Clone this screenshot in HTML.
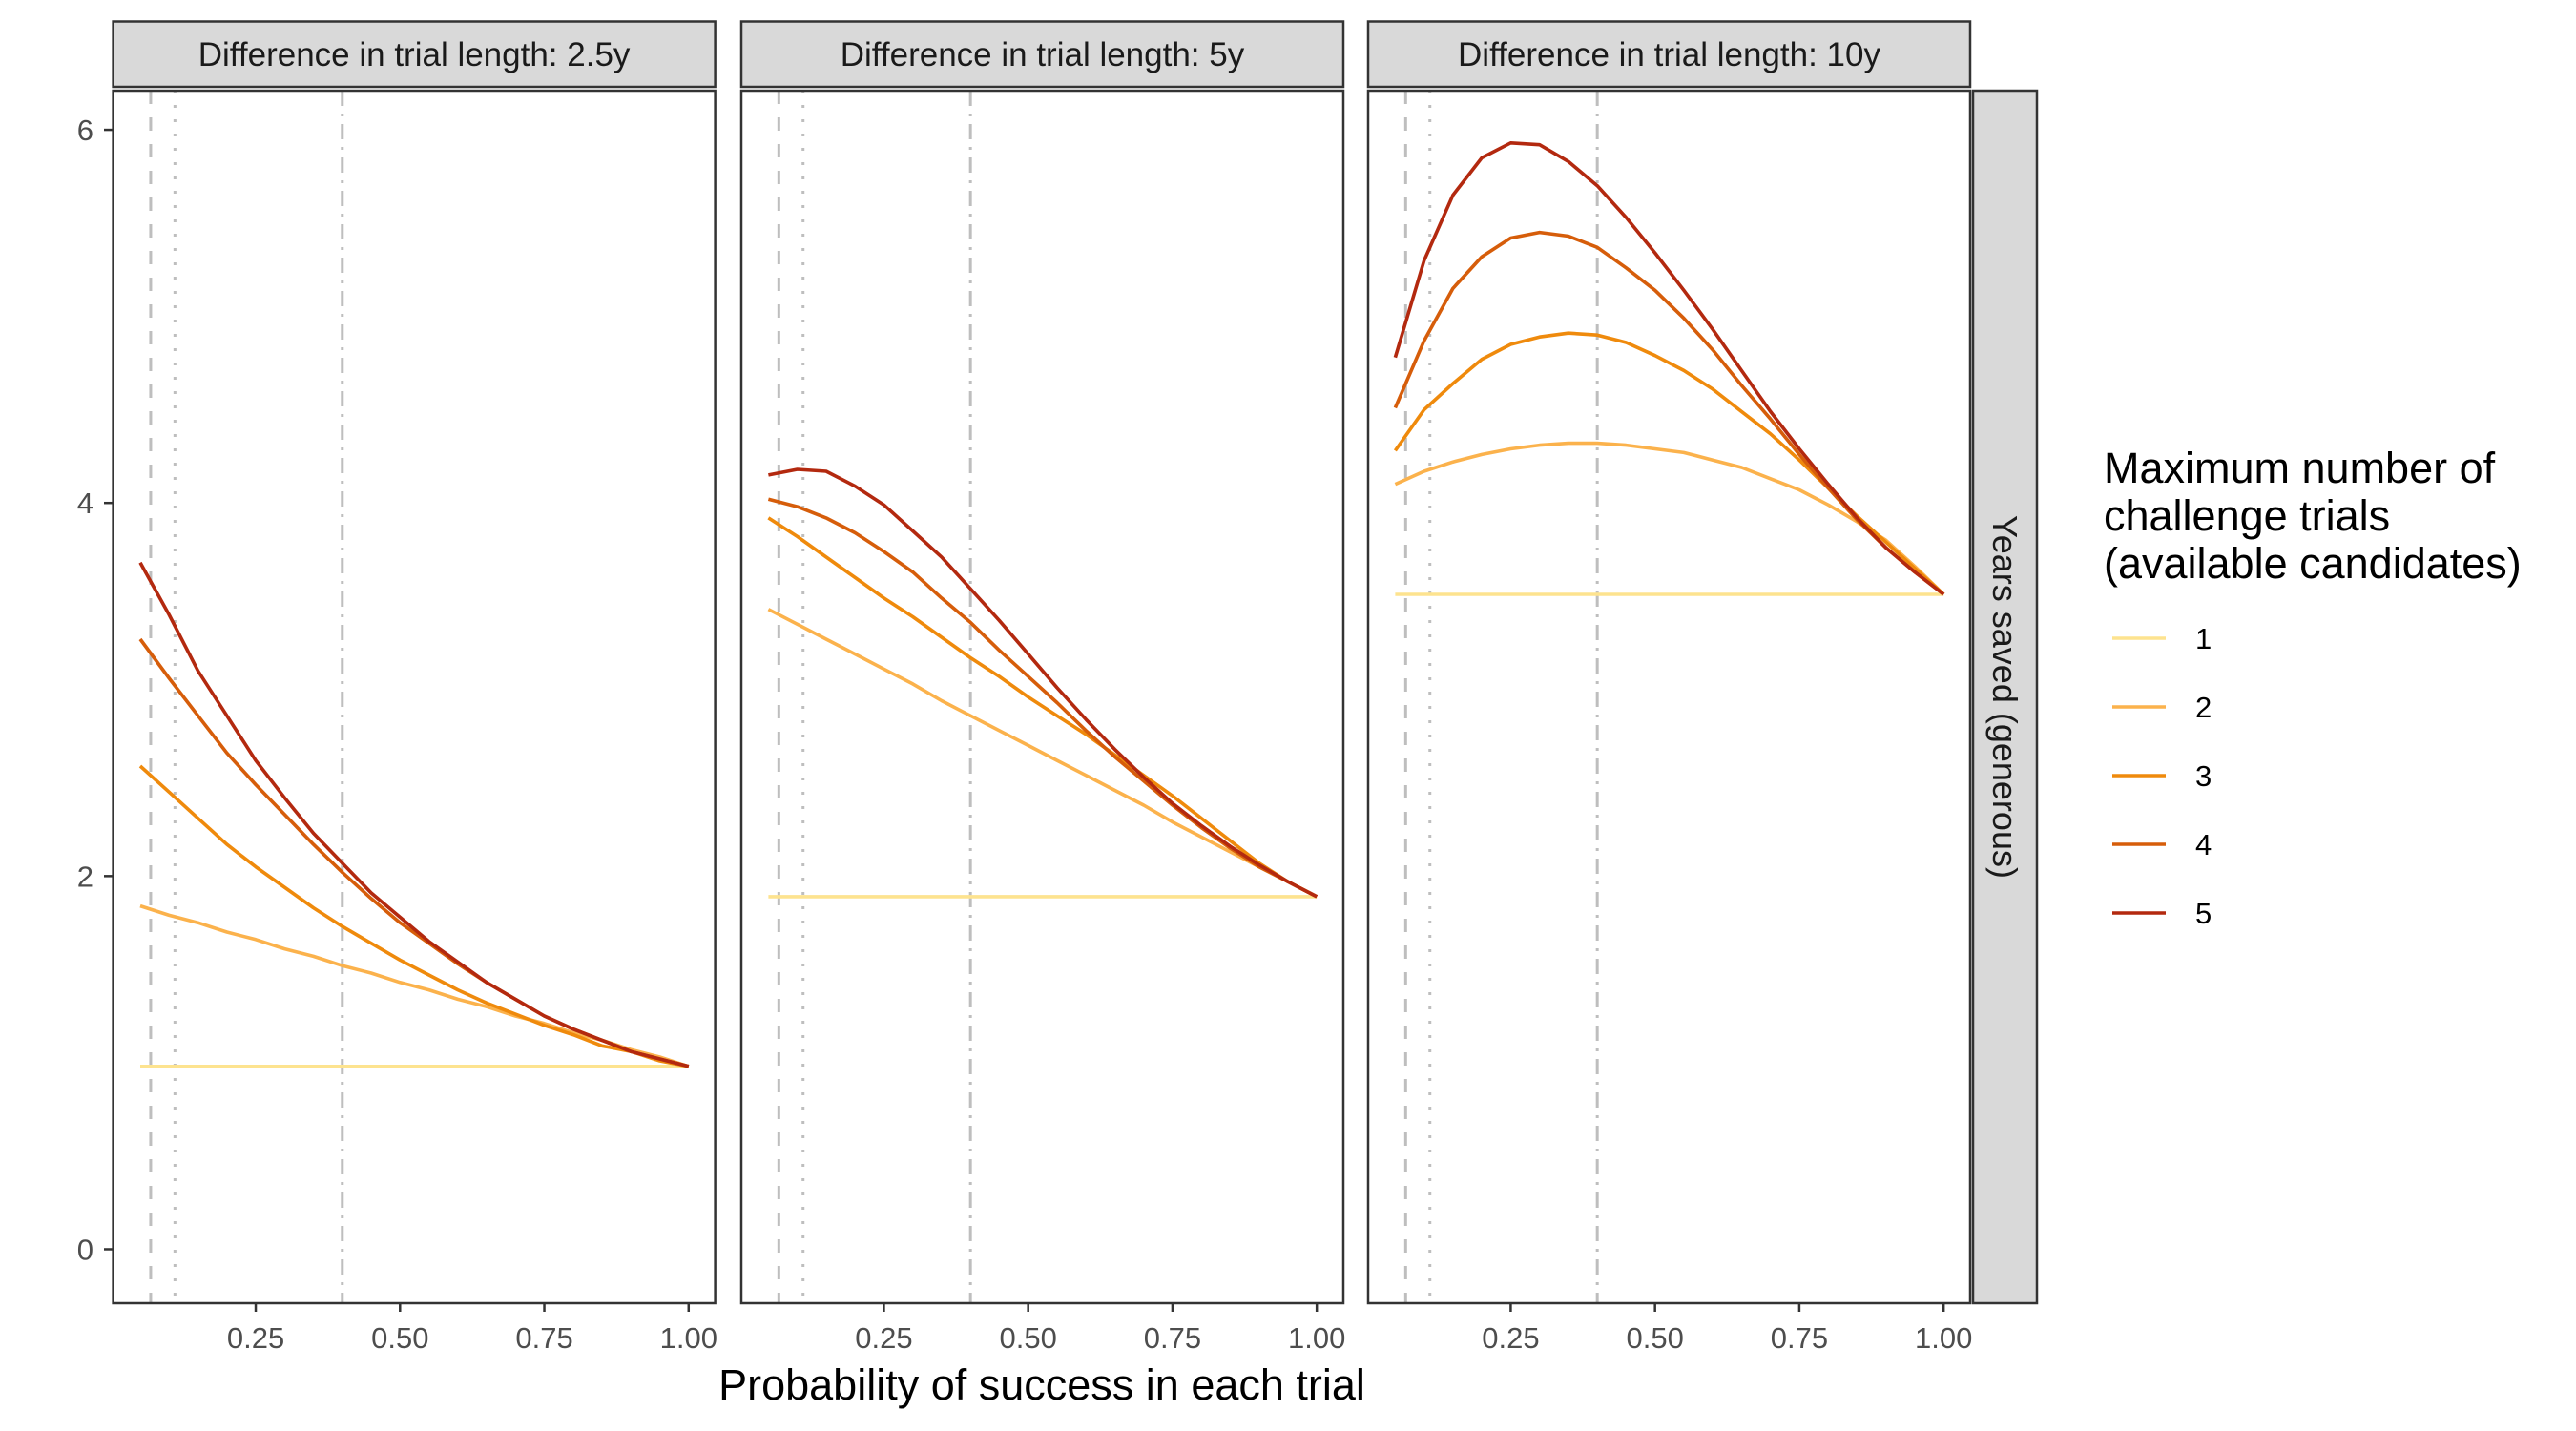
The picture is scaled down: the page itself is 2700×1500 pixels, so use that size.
<!DOCTYPE html>
<html><head><meta charset="utf-8"><style>
body{margin:0;background:#fff;}
svg{display:block;font-family:"Liberation Sans",Arial,sans-serif;}
</style></head><body>
<svg id="chart" width="2700" height="1500" viewBox="0 0 2700 1500"></svg>
<script>
const xValues=[0.05,0.1,0.15,0.2,0.25,0.3,0.35,0.4,0.45,0.5,0.55,0.6,0.65,0.7,0.75,0.8,0.85,0.9,0.95,1.0];
const panelLabels=["Difference in trial length: 2.5y","Difference in trial length: 5y","Difference in trial length: 10y"];
const seriesNames=["1","2","3","4","5"];
const seriesColors=["#fde38f","#fbb24c","#ef8a0c","#d65d0a","#b3290f"];
const xTicks=[0.25,0.5,0.75,1.0];
const xTickLabels=["0.25","0.50","0.75","1.00"];
const yTicks=[0,2,4,6];
const refLines=[0.068,0.11,0.4];
// panel 1 (2.5y)
const p1n1=[0.98,0.98,0.98,0.98,0.98,0.98,0.98,0.98,0.98,0.98,0.98,0.98,0.98,0.98,0.98,0.98,0.98,0.98,0.98,0.98];
const p1n2=[1.84,1.79,1.75,1.70,1.66,1.61,1.57,1.52,1.48,1.43,1.39,1.34,1.30,1.25,1.21,1.16,1.12,1.07,1.03,0.98];
const p1n3=[2.59,2.45,2.31,2.17,2.05,1.94,1.83,1.73,1.64,1.55,1.47,1.39,1.32,1.26,1.20,1.15,1.09,1.06,1.01,0.98];
const p1n4=[3.27,3.06,2.86,2.66,2.49,2.33,2.17,2.02,1.88,1.75,1.64,1.53,1.43,1.34,1.25,1.18,1.12,1.06,1.02,0.98];
const p1n5=[3.68,3.40,3.10,2.86,2.62,2.42,2.23,2.07,1.91,1.78,1.65,1.54,1.43,1.34,1.25,1.18,1.12,1.06,1.02,0.98];
// panel 2 (5y)
const p2n1=[1.89,1.89,1.89,1.89,1.89,1.89,1.89,1.89,1.89,1.89,1.89,1.89,1.89,1.89,1.89,1.89,1.89,1.89,1.89,1.89];
const p2n2=[3.43,3.35,3.27,3.19,3.11,3.03,2.94,2.86,2.78,2.70,2.62,2.54,2.46,2.38,2.29,2.21,2.13,2.05,1.97,1.89];
const p2n3=[3.92,3.82,3.71,3.60,3.49,3.39,3.28,3.17,3.07,2.96,2.86,2.76,2.65,2.54,2.43,2.31,2.19,2.07,1.97,1.89];
const p2n4=[4.02,3.98,3.92,3.84,3.74,3.63,3.49,3.36,3.21,3.07,2.93,2.78,2.64,2.51,2.38,2.26,2.15,2.05,1.97,1.89];
const p2n5=[4.15,4.18,4.17,4.09,3.99,3.85,3.71,3.54,3.37,3.19,3.01,2.84,2.68,2.53,2.39,2.27,2.16,2.06,1.97,1.89];
// panel 3 (10y)
const p3n1=[3.51,3.51,3.51,3.51,3.51,3.51,3.51,3.51,3.51,3.51,3.51,3.51,3.51,3.51,3.51,3.51,3.51,3.51,3.51,3.51];
const p3n2=[4.10,4.17,4.22,4.26,4.29,4.31,4.32,4.32,4.31,4.29,4.27,4.23,4.19,4.13,4.07,3.99,3.90,3.80,3.66,3.51];
const p3n3=[4.28,4.50,4.64,4.77,4.85,4.89,4.91,4.90,4.86,4.79,4.71,4.61,4.49,4.37,4.23,4.08,3.93,3.79,3.65,3.51];
const p3n4=[4.51,4.87,5.15,5.32,5.42,5.45,5.43,5.37,5.26,5.14,4.99,4.82,4.63,4.45,4.26,4.08,3.91,3.76,3.63,3.51];
const p3n5=[4.78,5.30,5.65,5.85,5.93,5.92,5.83,5.70,5.53,5.34,5.14,4.93,4.71,4.49,4.29,4.10,3.92,3.76,3.63,3.51];
const panelSeries=[[p1n1,p1n2,p1n3,p1n4,p1n5],[p2n1,p2n2,p2n3,p2n4,p2n5],[p3n1,p3n2,p3n3,p3n4,p3n5]];

const NS="http://www.w3.org/2000/svg";
const svg=document.getElementById('chart');
function mk(tag,attrs,parent){const e=document.createElementNS(NS,tag);for(const k in attrs)e.setAttribute(k,attrs[k]);(parent||svg).appendChild(e);return e;}
const panelLefts=[118.6,777,1434];
const panelW=631, panelTop=95, panelBottom=1366;
const xMin=0.003,xMax=1.046,yMin=-0.289,yMax=6.21;
function sx(p,v){return panelLefts[p]+(v-xMin)/(xMax-xMin)*panelW;}
function sy(v){return panelBottom-(v-yMin)/(yMax-yMin)*(panelBottom-panelTop);}

for(let p=0;p<3;p++){
  const g=mk('g',{});
  
  
  const L=panelLefts[p];
  mk('rect',{x:L,y:panelTop,width:panelW,height:panelBottom-panelTop,fill:'#fff'},g);
  const st=mk('rect',{x:L,y:22.5,width:panelW,height:68.5,fill:'#d9d9d9',stroke:'#333','stroke-width':2.5},g);
  
  
  const stt=mk('text',{x:L+panelW/2,y:69,'text-anchor':'middle','font-size':35,fill:'#1a1a1a'},g);
  stt.textContent=panelLabels[p];
  
  
  const dashes=['14,14','3,12','16,8,3,8'];
  refLines.forEach((r,i)=>{
    const ln=mk('line',{x1:sx(p,r),x2:sx(p,r),y1:panelTop,y2:panelBottom,stroke:'#bebebe','stroke-width':3,'stroke-dasharray':dashes[i]},g);
    
    
  });
  panelSeries[p].forEach((s,si)=>{
    const d=s.map((v,i)=>(i?'L':'M')+sx(p,xValues[i]).toFixed(1)+','+sy(v).toFixed(1)).join('');
    const path=mk('path',{d:d,fill:'none',stroke:seriesColors[si],'stroke-width':3.6,'stroke-linejoin':'round'},g);
    
    
  });
  mk('rect',{x:L,y:panelTop,width:panelW,height:panelBottom-panelTop,fill:'none',stroke:'#333','stroke-width':2.5},g);
  xTicks.forEach((t,i)=>{
    mk('line',{x1:sx(p,t),x2:sx(p,t),y1:panelBottom,y2:panelBottom+9,stroke:'#333','stroke-width':2.5},g);
    const tx=mk('text',{x:sx(p,t),y:1413,'text-anchor':'middle','font-size':31,fill:'#4d4d4d'},g);
    tx.textContent=xTickLabels[i];
    
    
  });
}
yTicks.forEach(t=>{
  mk('line',{x1:109,x2:118.6,y1:sy(t),y2:sy(t),stroke:'#333','stroke-width':2.5});
  const ty=mk('text',{x:98,y:sy(t)+11,'text-anchor':'end','font-size':31,fill:'#4d4d4d'});
  ty.textContent=String(t);
  
  
});
const rs=mk('rect',{x:2068,y:panelTop,width:67,height:panelBottom-panelTop,fill:'#d9d9d9',stroke:'#333','stroke-width':2.5});


const rt=mk('text',{x:0,y:0,'text-anchor':'middle','font-size':36,fill:'#1a1a1a',transform:'translate(2089,'+((panelTop+panelBottom)/2)+') rotate(90)'});
rt.textContent='Years saved (generous)';


const xt=mk('text',{x:1092,y:1467,'text-anchor':'middle','font-size':45,fill:'#000'});
xt.textContent='Probability of success in each trial';


const lg=mk('g',{});


['Maximum number of','challenge trials','(available candidates)'].forEach((s,i)=>{
  const t=mk('text',{x:2205,y:506+i*50,'font-size':45,fill:'#000'},lg);
  t.textContent=s;
  
  
});
seriesNames.forEach((n,i)=>{
  const y=669+i*72;
  const k=mk('line',{x1:2214,x2:2270,y1:y,y2:y,stroke:seriesColors[i],'stroke-width':3.6},lg);
  
  
  const t=mk('text',{x:2301,y:y+11,'font-size':31,fill:'#000'},lg);
  t.textContent=n;
  
  
});
</script>
</body></html>
